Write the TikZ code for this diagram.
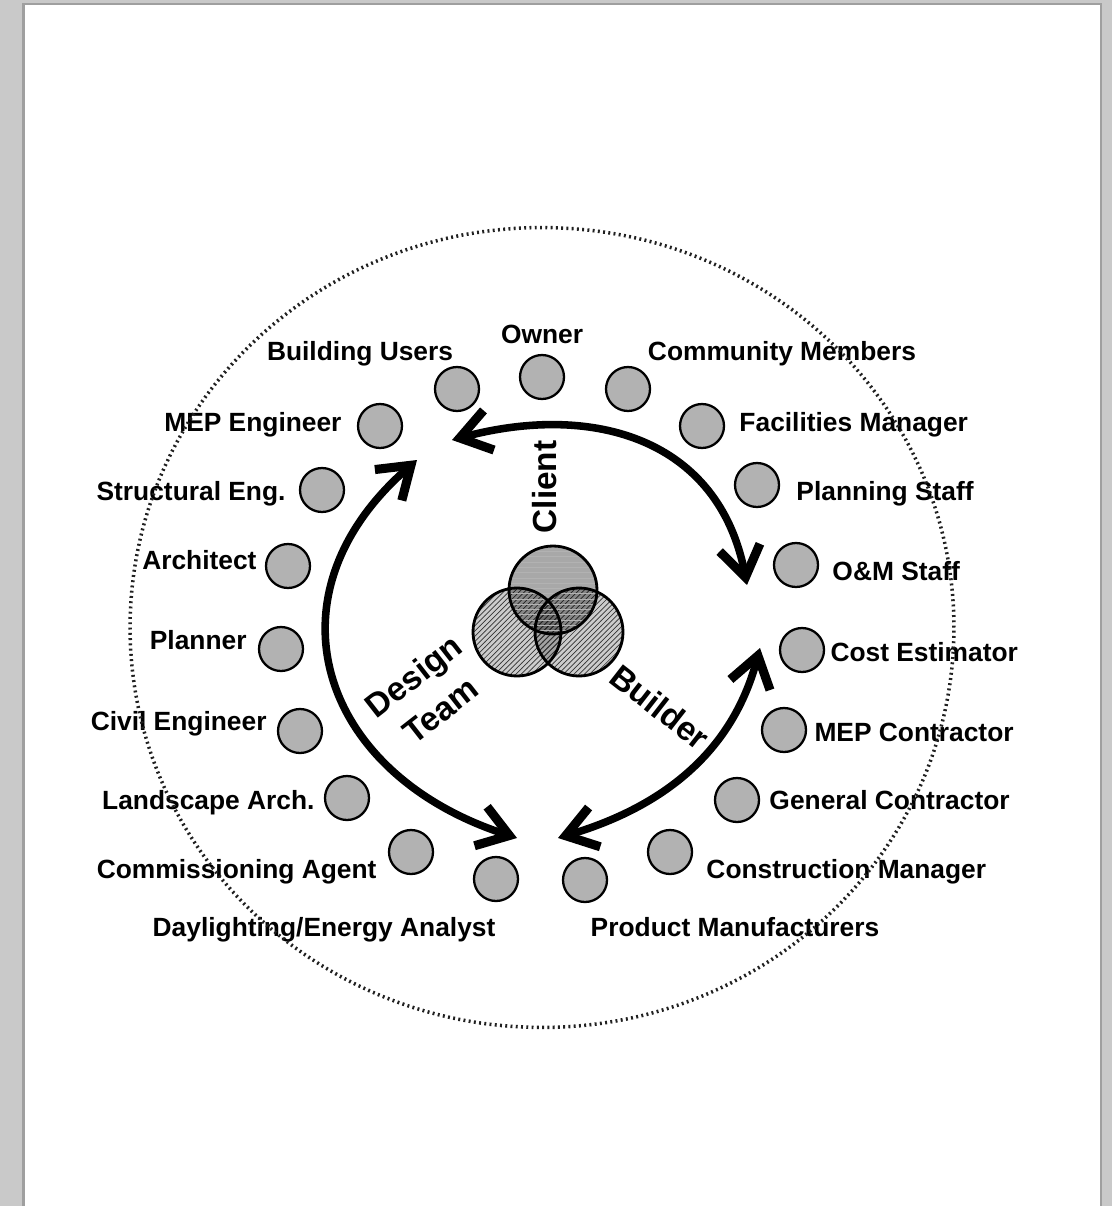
\documentclass[tikz,border=0pt]{standalone}
\usepackage{fontspec}
\setmainfont{Liberation Sans}
\usetikzlibrary{positioning, arrows.meta, patterns}
\tikzstyle{member} = [circle, minimum size=0.88cm, inner sep=0pt, draw=black, line width=1.3pt, fill=gray!60]
\tikzstyle{who} = [inner sep=0pt, text height=11pt, text depth=3pt, font=\fontsize{15}{18}\selectfont\bfseries]
\tikzstyle{team} = [inner sep=0pt, align=center, font=\fontsize{19}{25}\selectfont\bfseries]
\tikzstyle{venn} = [circle, minimum size=1.76cm, inner sep=0pt, fill=black, fill opacity=0.2, postaction={fill opacity=0.45, pattern=north east lines, pattern color=black!80}]
\tikzstyle{venntop} = [circle, minimum size=1.76cm, inner sep=0pt, fill=black, fill opacity=0.34, postaction={fill opacity=0.25, pattern=horizontal lines, pattern color=gray!60}]
\tikzstyle{flow} = [line width=4.3pt, {Straight Barb[length=0.6cm,width=0.82cm,line width=0pt 1.2]}-{Straight Barb[length=0.6cm,width=0.82cm,line width=0pt 1.2]}]
\tikzstyle{ring} = [gray!25!black, line width=2pt, dash pattern=on 1.1pt off 1.9pt]

\begin{document}
\begin{tikzpicture}[x=0.02cm, y=-0.02cm]
		\fill[gray!42] (0,0) rectangle (1112,1206);
		\fill[gray!75] (22,3) rectangle (1102,1206);
		\fill[white] (25,5) rectangle (1100,1206);
		\useasboundingbox (0,0) rectangle (1112,1206);

		\node (usr) [member] at (457,389) {};
		\node (own) [member] at (542,377) {};
		\node (com) [member] at (628,389) {};
		\node (fac) [member] at (702,426) {};
		\node (pln) [member] at (757,485) {};
		\node (oms) [member] at (796,565) {};
		\node (cst) [member] at (802,650) {};
		\node (mepc) [member] at (784,730) {};
		\node (gc) [member] at (737,800) {};
		\node (cmgr) [member] at (670,852) {};
		\node (pm) [member] at (585,880) {};
		\node (dla) [member] at (496,879) {};
		\node (cx) [member] at (411,852) {};
		\node (la) [member] at (347,798) {};
		\node (civ) [member] at (300,731) {};
		\node (pla) [member] at (281,649) {};
		\node (archi) [member] at (288,566) {};
		\node (str) [member] at (322,490) {};
		\node (mepe) [member] at (380,426) {};

		\node (tusr) [who, above=0cm of usr, xshift=-1.94cm] {Building Users};
		\node (town) [who, above=0.09cm of own] {Owner};
		\node (tcom) [who, above=0cm of com, xshift=3.08cm] {Community Members};
		\node (tfac) [who, right=0.28cm of fac, yshift=0.03cm] {Facilities Manager};
		\node (tpln) [who, right=0.32cm of pln, yshift=-0.17cm] {Planning Staff};
		\node (toms) [who, right=0.26cm of oms, yshift=-0.17cm] {O\&M Staff};
		\node (tcst) [who, right=0.1cm of cst, yshift=-0.09cm] {Cost Estimator};
		\node (tmepc) [who, right=0.14cm of mepc, yshift=-0.09cm] {MEP Contractor};
		\node (tgc) [who, right=0.18cm of gc, yshift=-0.05cm] {General Contractor};
		\node (tcmgr) [who, right=0.26cm of cmgr, yshift=-0.39cm] {Construction Manager};
		\node (tpm) [who, below=0.28cm of pm, xshift=3cm] {Product Manufacturers};
		\node (tdla) [who, below=0.3cm of dla, xshift=-3.44cm] {Daylighting/Energy Analyst};
		\node (tcx) [who, left=0.22cm of cx, yshift=-0.39cm] {Commissioning Agent};
		\node (tla) [who, left=0.18cm of la, yshift=-0.09cm] {Landscape Arch.};
		\node (tciv) [who, left=0.2cm of civ, yshift=0.15cm] {Civil Engineer};
		\node (tpla) [who, left=0.22cm of pla, yshift=0.13cm] {Planner};
		\node (tarchi) [who, left=0.16cm of archi, yshift=0.07cm] {Architect};
		\node (tstr) [who, left=0.26cm of str, yshift=-0.07cm] {Structural Eng.};
		\node (tmepe) [who, left=0.3cm of mepe, yshift=0.03cm] {MEP Engineer};

		\node (dsg) [venn] at (517,632) {};
		\node (bld) [venn] at (579,632) {};
		\node (cli) [venntop] at (553,590) {};
		\draw[line width=1.6pt] (dsg) circle [radius=0.88cm] (bld) circle [radius=0.88cm] (cli) circle [radius=0.88cm];

		\node (tcli) [team, rotate=90] at (545,487) {Client};
		\node (tdsg) [team, rotate=38] at (427,693) {Design\\Team};
		\node (tbld) [team, rotate=-38] at (660,707) {Builder};

		\coordinate (cl1) at (452,440);
		\coordinate (cl2) at (747,585);
		\coordinate (dt1) at (417,460);
		\coordinate (dt2) at (517,838);
		\coordinate (bl1) at (760,648);
		\coordinate (bl2) at (558,838);
		\draw [flow] (cl1) .. controls +(143,-38) and +(-28,-145) .. (cl2);
		\draw [flow] (dt1) .. controls +(-156,136) and +(-197,-64) .. (dt2);
		\draw [flow] (bl1) .. controls +(-28,105) and +(104,-31) .. (bl2);

		\draw [ring] (542,627.5) ellipse [x radius=8.24cm, y radius=8cm];
	  \end{tikzpicture}
\end{document}
